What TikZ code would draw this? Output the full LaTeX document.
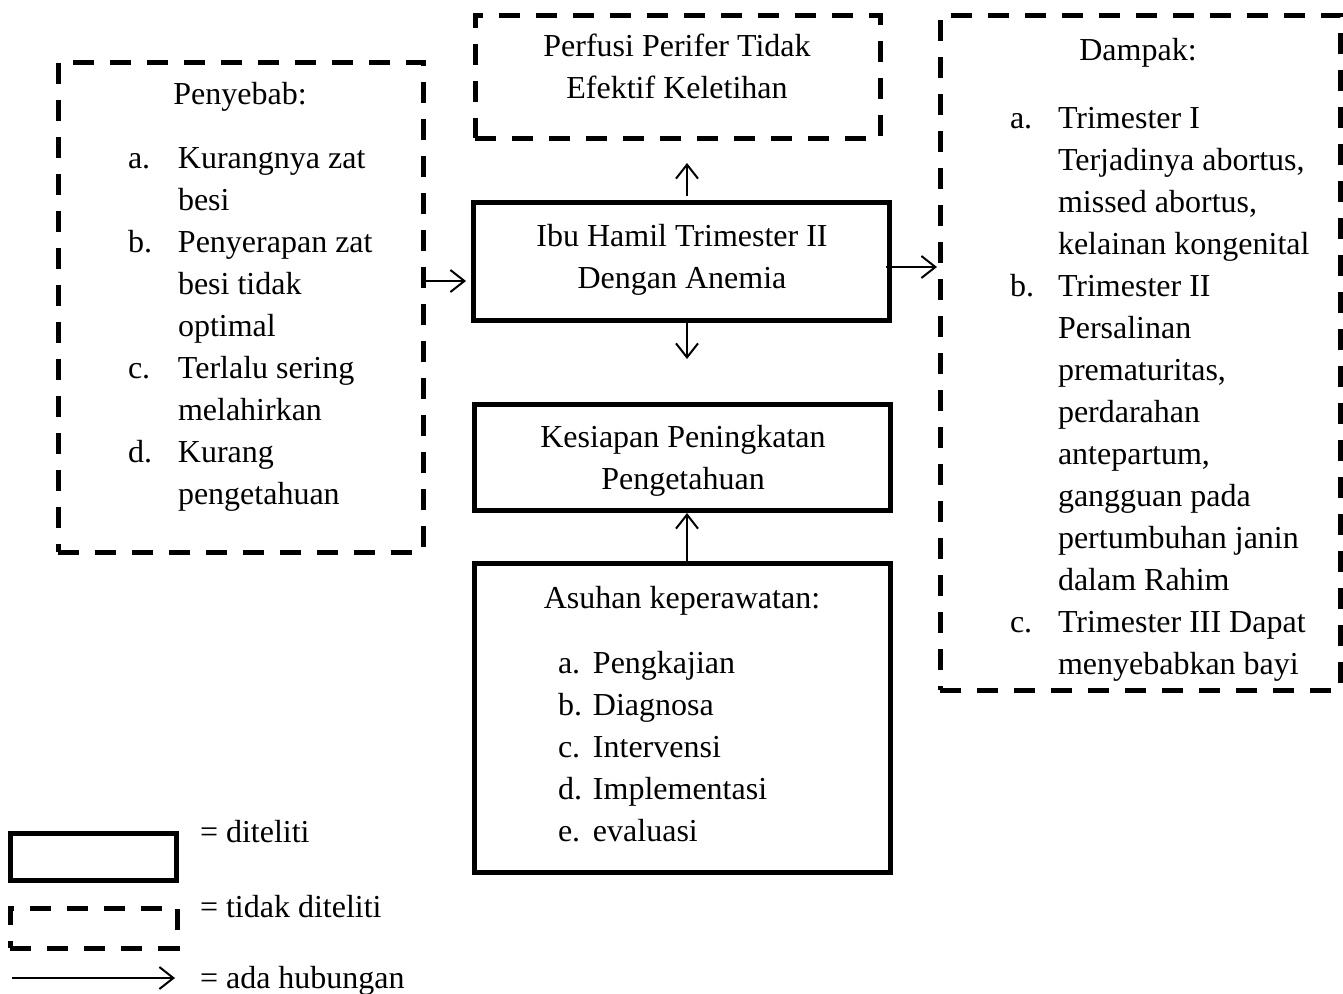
\documentclass[tikz,border=0pt]{standalone}
\usepackage{fontspec}
\setmainfont{Liberation Serif}
\usetikzlibrary{arrows.meta}
\begin{document}
\begin{tikzpicture}[x=0.5pt,y=-0.5pt,
  solidbox/.style={draw, line width=2.5pt, inner sep=0pt, outer sep=0pt},
  dashbox/.style={draw, line width=2.5pt, dash pattern=on 10.5pt off 8pt, inner sep=0pt, outer sep=0pt},
  arr/.style={line width=1pt, -{Straight Barb[length=7pt,width=11pt]}},
  txt/.style={inner sep=0pt, outer sep=0pt, font=\fontsize{16}{21}\selectfont}]
\useasboundingbox (0,0) rectangle (1343,993);

% boxes
\node[dashbox, minimum width=182.5pt, minimum height=245pt] (sebab) at (240.5,307) {};
\node[dashbox, minimum width=202.5pt, minimum height=61.5pt] (perf) at (677.5,76.5) {};
\node[solidbox, minimum width=208pt, minimum height=59pt] (ibu) at (681,261) {};
\node[solidbox, minimum width=208pt, minimum height=53pt] (siap) at (682,457) {};
\node[solidbox, minimum width=208pt, minimum height=154.5pt] (asuh) at (682,717.5) {};
\node[dashbox, minimum width=200pt, minimum height=337.5pt] (dampak) at (1140,352.5) {};

% texts
\node[txt, anchor=base] (tsebab) at (240,104) {Penyebab:};
\node[txt, anchor=base west] (lsebab) at (128,168) {\begin{tabular}[t]{@{}p{25pt}@{}l@{}}
a. & Kurangnya zat\\
   & besi\\
b. & Penyerapan zat\\
   & besi tidak\\
   & optimal\\
c. & Terlalu sering\\
   & melahirkan\\
d. & Kurang\\
   & pengetahuan
\end{tabular}};

\node[txt, anchor=base] (tperf) at (677,56) {\begin{tabular}[t]{@{}c@{}}Perfusi Perifer Tidak\\Efektif Keletihan\end{tabular}};
\node[txt, anchor=base] (tibu) at (682,246) {\begin{tabular}[t]{@{}c@{}}Ibu Hamil Trimester II\\Dengan Anemia\end{tabular}};
\node[txt, anchor=base] (tsiap) at (683,447) {\begin{tabular}[t]{@{}c@{}}Kesiapan Peningkatan\\Pengetahuan\end{tabular}};

\node[txt, anchor=base] (tasuh) at (682,608) {Asuhan keperawatan:};
\node[txt, anchor=base west] (lasuh) at (558,673) {\begin{tabular}[t]{@{}p{17.5pt}@{}l@{}}
a. & Pengkajian\\
b. & Diagnosa\\
c. & Intervensi\\
d. & Implementasi\\
e. & evaluasi
\end{tabular}};

\node[txt, anchor=base] (tdampak) at (1138,60) {Dampak:};
\node[txt, anchor=base west] (ldampak) at (1010,128) {\begin{tabular}[t]{@{}p{24pt}@{}l@{}}
a. & Trimester I\\
   & Terjadinya abortus,\\
   & missed abortus,\\
   & kelainan kongenital\\
b. & Trimester II\\
   & Persalinan\\
   & prematuritas,\\
   & perdarahan\\
   & antepartum,\\
   & gangguan pada\\
   & pertumbuhan janin\\
   & dalam Rahim\\
c. & Trimester III Dapat\\
   & menyebabkan bayi
\end{tabular}};

% connectors
\coordinate (u1) at (687,196);
\coordinate (u2) at (687,163);
\coordinate (d1) at (687,322);
\coordinate (d2) at (687,359);
\coordinate (l1) at (424,281);
\coordinate (l2) at (466,281);
\coordinate (r1) at (886,267);
\coordinate (r2) at (937,267);
\coordinate (a1) at (687,562);
\coordinate (a2) at (687,513);
\draw[arr] (u1) -- (u2);
\draw[arr] (d1) -- (d2);
\draw[arr] (l1) -- (l2);
\draw[arr] (r1) -- (r2);
\draw[arr] (a1) -- (a2);

% legend
\node[solidbox, minimum width=83pt, minimum height=23.5pt] (legs) at (93,857) {};
\node[dashbox, minimum width=83.5pt, minimum height=20pt] (legd) at (93.5,928) {};
\coordinate (g1) at (12,978);
\coordinate (g2) at (175,978);
\draw[arr] (g1) -- (g2);
\node[txt, anchor=base west] (ts) at (200,842) {= diteliti};
\node[txt, anchor=base west] (td) at (200,917) {= tidak diteliti};
\node[txt, anchor=base west] (ta) at (200,988) {= ada hubungan};
\end{tikzpicture}
\end{document}
